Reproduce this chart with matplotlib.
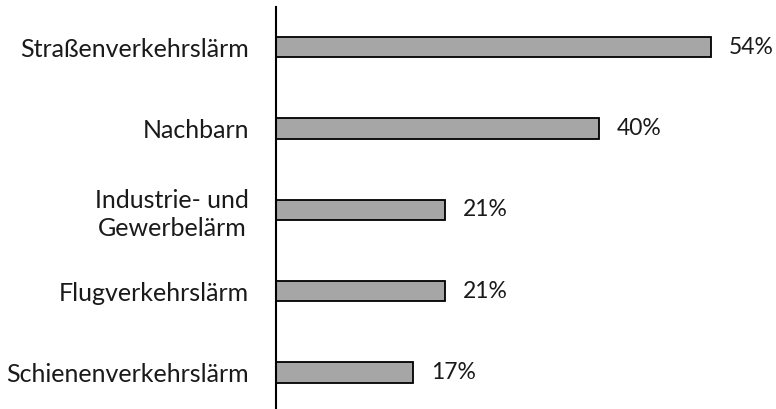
import matplotlib
matplotlib.use('Agg')
import matplotlib.pyplot as plt

categories = ['Straßenverkehrslärm', 'Nachbarn', 'Industrie- und\nGewerbelärm',
              'Flugverkehrslärm', 'Schienenverkehrslärm']
values = [54, 40, 21, 21, 17]
value_labels = ['54%', '40%', '21%', '21%', '17%']

plt.rcParams['font.family'] = ['Lato', 'DejaVu Sans']

fig = plt.figure(figsize=(7.76, 4.09), dpi=100)
ax = fig.add_axes([276 / 776, -4 / 409, 500 / 776, 406.5 / 409])

pos = list(range(len(categories)))
ax.barh(pos, values, height=0.25, color='#a6a6a6', edgecolor='black', linewidth=1.3)
ax.set_ylim(len(categories) - 0.5, -0.5)
ax.set_xlim(0, 62)

for p, v, lab in zip(pos, values, value_labels):
    ax.text(v + 2.2, p, lab, va='center', ha='left', fontsize=16.5, color='#1a1a1a')

ax.set_yticks(pos)
ax.set_yticklabels(categories, fontsize=18, color='#1a1a1a', ha='right',
                   multialignment='center', linespacing=1.3)
ax.tick_params(axis='y', length=0, pad=19.5)
ax.set_xticks([])
for s in ['top', 'right', 'bottom']:
    ax.spines[s].set_visible(False)
ax.spines['left'].set_linewidth(1.5)
ax.spines['left'].set_bounds(-0.5 + 0.01, 4.45)

fig.savefig('out.png', dpi=100)
